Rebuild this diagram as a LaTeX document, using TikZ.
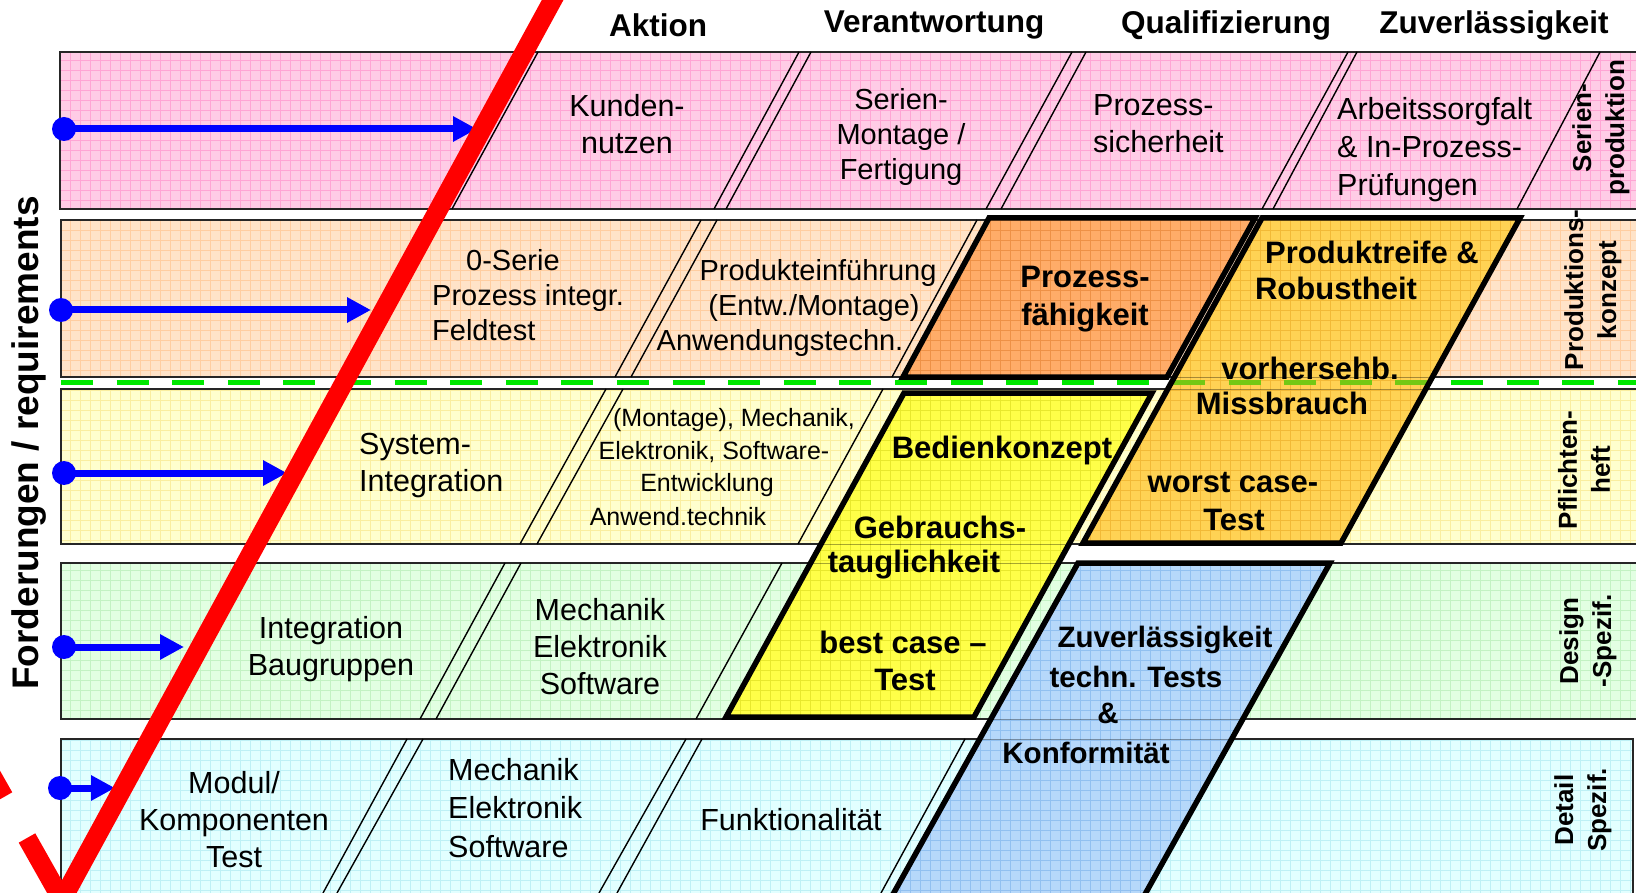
\documentclass[tikz,border=0pt]{standalone}
\usepackage{fontspec}
\setmainfont{Liberation Sans}
\usetikzlibrary{arrows.meta}
\definecolor{pinkbg}{RGB}{255,204,230}
\definecolor{pinkgrid}{RGB}{255,165,212}
\definecolor{peachbg}{RGB}{255,227,200}
\definecolor{peachgrid}{RGB}{255,205,160}
\definecolor{yelbg}{RGB}{255,255,206}
\definecolor{yelgrid}{RGB}{250,238,160}
\definecolor{grnbg}{RGB}{226,255,226}
\definecolor{grngrid}{RGB}{195,242,195}
\definecolor{cyanbg}{RGB}{226,255,255}
\definecolor{cyangrid}{RGB}{190,240,245}
\definecolor{orgbg}{RGB}{255,172,104}
\definecolor{orggrid}{RGB}{238,145,70}
\definecolor{goldbg}{RGB}{255,210,84}
\definecolor{goldgrid}{RGB}{242,185,55}
\definecolor{byelbg}{RGB}{255,255,72}
\definecolor{byelgrid}{RGB}{232,232,45}
\definecolor{bluebg}{RGB}{182,216,250}
\definecolor{bluegrid}{RGB}{145,192,240}
\definecolor{dashgreen}{RGB}{0,232,0}
\definecolor{dasholive}{RGB}{115,200,20}
\newcommand{\bandfill}[3]{\begin{scope}\clip #3;\fill[#1] #3;\draw[#2,line width=0.8pt,step=10pt] (0,910) grid (1650,-10);\end{scope}}
\begin{document}
\begin{tikzpicture}[x=1pt,y=-1pt,
  rowedge/.style={draw=black!85,line width=1.8pt},
  divline/.style={black,line width=1.4pt},
  thickedge/.style={draw=black,line width=5.5pt},
  faint/.style={black,line width=1pt,opacity=0.35},
  rtxt/.style={inner sep=0pt,align=center,font=\fontsize{30.5}{37}\selectfont},
  stxt/.style={inner sep=0pt,align=center,font=\fontsize{29}{35}\selectfont},
  smtxt/.style={inner sep=0pt,font=\fontsize{25}{32}\selectfont},
  btxt/.style={inner sep=0pt,align=center,font=\bfseries\fontsize{31}{38}\selectfont},
  bltxt/.style={inner sep=0pt,font=\bfseries\fontsize{29.5}{37}\selectfont},
  hdr/.style={inner sep=0pt,font=\bfseries\fontsize{31.5}{38}\selectfont},
  sidelab/.style={inner sep=0pt,align=center,rotate=90,font=\bfseries\fontsize{26}{33}\selectfont},
  dot/.style={circle,fill=blue,inner sep=0pt,minimum size=24pt},
  reqarrow/.style={blue,line width=7pt,-{Triangle[length=24pt,width=24pt]}},
  checkline/.style={red,line width=19pt},
  dashline/.style={line width=5pt,dash pattern=on 32pt off 23.6pt}]
\useasboundingbox (0,0) rectangle (1636,893);
\fill[white] (0,0) rectangle (1636,893);

% ---- row bands
\bandfill{pinkbg}{pinkgrid}{(60,52) rectangle (1645,209)}
\draw[rowedge] (60,52) rectangle (1645,209);
\bandfill{peachbg}{peachgrid}{(61,220) rectangle (1645,377)}
\draw[rowedge] (61,220) rectangle (1645,377);
\bandfill{yelbg}{yelgrid}{(61,389) rectangle (1645,544)}
\draw[rowedge] (61,389) rectangle (1645,544);
\bandfill{grnbg}{grngrid}{(61,563) rectangle (1645,719)}
\draw[rowedge] (61,563) rectangle (1645,719);
\bandfill{cyanbg}{cyangrid}{(61,739) rectangle (1633,910)}
\draw[rowedge] (61,739) rectangle (1633,910);

% ---- green dashed boundary
\draw[dashline,dashgreen] (61,382) -- (1645,382);

% ---- slanted dividers
% row 1
\draw[divline] (538,52) -- (452,209);
\draw[divline] (799,52) -- (714,209);  \draw[divline] (811,52) -- (726,209);
\draw[divline] (1072,52) -- (986,209); \draw[divline] (1086,52) -- (1001,209);
\draw[divline] (1348,52) -- (1262,209);\draw[divline] (1357,52) -- (1273,209);
\draw[divline] (1600,52) -- (1517,209);
% row 2
\draw[divline] (701,220) -- (615,377); \draw[divline] (717,220) -- (631,377);
\draw[divline] (977,220) -- (892,377);
% row 3
\draw[divline] (606,389) -- (520,544); \draw[divline] (623,389) -- (537,544);
\draw[divline] (883,389) -- (798,544);
% row 4
\draw[divline] (505,563) -- (420,719); \draw[divline] (521,563) -- (436,719);
\draw[divline] (782,563) -- (696,719);
% row 5
\draw[divline] (407,739) -- (323,893); \draw[divline] (423,739) -- (337,893);
\draw[divline] (686,739) -- (599,893); \draw[divline] (702,739) -- (617,893);
\draw[divline] (965,739) -- (881,893);

% ---- highlighted parallelograms
\bandfill{orgbg}{orggrid}{(989,218) -- (1255,218) -- (1167,377) -- (903,377) -- cycle}
\draw[thickedge] (989,218) -- (1255,218) -- (1167,377) -- (903,377) -- cycle;

\begin{scope}
\clip (1262,218) -- (1520,218) -- (1341,543) -- (1083,543) -- cycle;
\fill[goldbg] (1000,200) rectangle (1600,560);
\draw[goldgrid,line width=0.8pt,step=10pt] (0,910) grid (1650,-10);
\draw[faint] (1000,377) -- (1600,377);
\draw[faint] (1000,389) -- (1600,389);
\draw[dashline,dasholive] (61,382) -- (1645,382);
\end{scope}
\draw[thickedge] (1262,218) -- (1520,218) -- (1341,543) -- (1083,543) -- cycle;

\begin{scope}
\clip (904,393) -- (1152,393) -- (974,717) -- (726,717) -- cycle;
\fill[byelbg] (700,380) rectangle (1200,730);
\draw[byelgrid,line width=0.8pt,step=10pt] (0,910) grid (1650,-10);
\draw[faint] (700,544) -- (1200,544);
\draw[faint] (700,563) -- (1200,563);
\end{scope}
\draw[thickedge] (904,393) -- (1152,393) -- (974,717) -- (726,717) -- cycle;

\begin{scope}
\clip (1078,563) -- (1330,563) -- (1139,905) -- (887,905) -- cycle;
\fill[bluebg] (850,550) rectangle (1400,910);
\draw[bluegrid,line width=0.8pt,step=10pt] (0,910) grid (1650,-10);
\draw[faint] (850,719) -- (1400,719);
\draw[faint] (850,739) -- (1400,739);
\end{scope}
\draw[thickedge] (1078,563) -- (1330,563) -- (1139,905) -- (887,905) -- cycle;

% ---- texts row 1
\node[rtxt] (kunden) at (627,124) {Kunden-\\nutzen};
\node[stxt] (serien) at (901,137) {Serien-\\Montage /\\Fertigung};
\node[rtxt,align=left,anchor=west] (psich) at (1093,124) {Prozess-\\sicherheit};
\node[rtxt,align=left,anchor=west,font=\fontsize{30.5}{38}\selectfont] (arbeit) at (1337,150) {Arbeitssorgfalt\\\& In-Prozess-\\Prüfungen};
% row 2
\node[stxt,align=left,anchor=west] (nullserie) at (432,295) {\hspace*{34pt}0-Serie\\Prozess integr.\\Feldtest};
\node[stxt] (pe1) at (818,273) {Produkteinführung};
\node[stxt] (pe2) at (814,308) {(Entw./Montage)};
\node[stxt] (pe3) at (780,343) {Anwendungstechn.};
\node[btxt] (pfaeh) at (1085,299) {Prozess-\\fähigkeit};
\node[btxt] (pr1) at (1372,252) {Produktreife \&};
\node[btxt] (pr2) at (1336,288) {Robustheit};
\node[btxt] (pr3) at (1310,368) {vorhersehb.};
\node[btxt] (pr4) at (1282,403) {Missbrauch};
\node[btxt] (pr5) at (1233,483) {worst case-};
\node[btxt] (pr6) at (1234,520) {Test};
% row 3
\node[rtxt,align=left,anchor=west] (sysint) at (359,466) {System-\\Integration};
\node[smtxt] (me1) at (734,420) {(Montage), Mechanik,};
\node[smtxt] (me2) at (714,452) {Elektronik, Software-};
\node[smtxt] (me3) at (707,485) {Entwicklung};
\node[smtxt] (me4) at (678,517) {Anwend.technik};
\node[btxt] (bk1) at (1002,450) {Bedienkonzept};
\node[btxt] (bk2) at (940,527) {Gebrauchs-};
\node[btxt] (bk3) at (914,565) {tauglichkeit};
\node[btxt] (bk4) at (903,642) {best case --};
\node[btxt] (bk5) at (905,680) {Test};
% row 4
\node[rtxt] (intbg) at (331,649) {Integration\\Baugruppen};
\node[rtxt] (mes4) at (600,647) {Mechanik\\Elektronik\\Software};
\node[bltxt] (zv1) at (1165,640) {Zuverlässigkeit};
\node[bltxt] (zv2) at (1136,677) {techn. Tests};
\node[bltxt] (zv3) at (1108,713) {\&};
\node[bltxt] (zv4) at (1086,753) {Konformität};
% row 5
\node[rtxt] (modul) at (234,820) {Modul/\\Komponenten\\Test};
\node[rtxt,align=left,anchor=west,font=\fontsize{30.5}{38.5}\selectfont] (mes5) at (448,808) {Mechanik\\Elektronik\\Software};
\node[rtxt] (funk) at (791,820) {Funktionalität};

% ---- side labels
\node[sidelab] (l1) at (1601,128) {Serien-\\produktion};
\node[sidelab] (l2) at (1593,290) {Produktions-\\konzept};
\node[sidelab] (l3) at (1584,470) {Pflichten-\\heft};
\node[sidelab] (l4) at (1588,641) {Design\\-Spezif.};
\node[sidelab] (l5) at (1583,810) {Detail\\Spezif.};
\node[inner sep=0pt,rotate=90,font=\bfseries\fontsize{37}{42}\selectfont] (req) at (29,443) {Forderungen / requirements};

% ---- column headers
\node[hdr] (h1) at (658,25) {Aktion};
\node[hdr] (h2) at (934,25) {Verantwortung};
\node[hdr] (h3) at (1226,25) {Qualifizierung};
\node[hdr] (h4) at (1494,25) {Zuverlässigkeit};

% ---- requirement arrows
\node[dot] (s1) at (64,129) {};  \coordinate (e1) at (477,129);
\node[dot] (s2) at (61,310) {};  \coordinate (e2) at (371,310);
\node[dot] (s3) at (64,473) {};  \coordinate (e3) at (287,473);
\node[dot] (s4) at (64,647) {};  \coordinate (e4) at (184,647);
\node[dot] (s5) at (60,788) {};  \coordinate (e5) at (115,788);
\draw[reqarrow] (s1.center) -- (e1);
\draw[reqarrow] (s2.center) -- (e2);
\draw[reqarrow] (s3.center) -- (e3);
\draw[reqarrow] (s4.center) -- (e4);
\draw[reqarrow] (s5.center) -- (e5);

% ---- red check mark
\coordinate (cshort) at (27,838);
\coordinate (cvertex) at (62,900);
\coordinate (ctop) at (557,-8);
\draw[checkline] (cshort) -- (cvertex) -- (ctop);
\coordinate (ctail1) at (4,797);
\coordinate (ctail2) at (-17,760);
\draw[checkline] (ctail1) -- (ctail2);
\end{tikzpicture}
\end{document}
